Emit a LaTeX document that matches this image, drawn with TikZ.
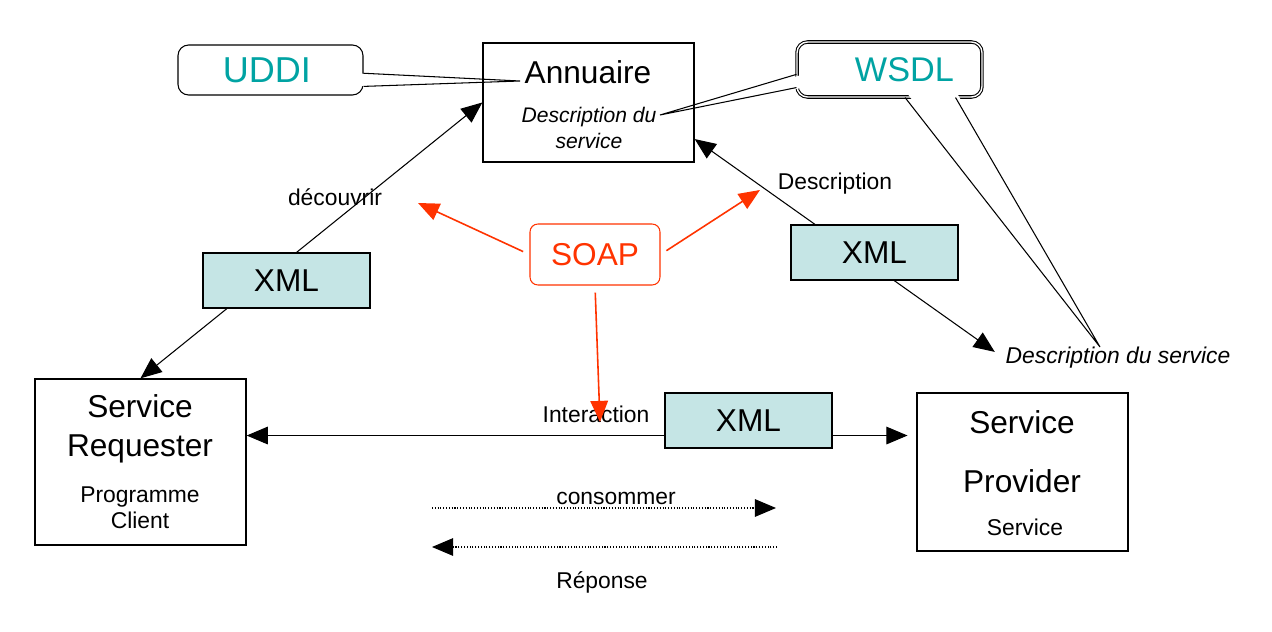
\documentclass[tikz,border=0pt]{standalone}
\usepackage{fontspec}
\setmainfont{Liberation Sans}
\usetikzlibrary{arrows.meta}

\definecolor{xmlfill}{RGB}{197,229,229}
\definecolor{calloutteal}{RGB}{0,163,163}
\definecolor{soapred}{RGB}{255,51,0}

\begin{document}
\begin{tikzpicture}[x=0.02cm,y=-0.02cm,line width=0.6pt,
    >={Triangle[length=12pt,width=10pt]},
    big/.style={font=\fontsize{18}{21}\selectfont},
    small/.style={font=\fontsize{13}{15}\selectfont},
    box/.style={draw,line width=0.8pt,inner sep=0pt,minimum width=4.22cm},
    xmlbox/.style={draw,line width=0.8pt,fill=xmlfill,inner sep=0pt,
      minimum width=3.34cm,minimum height=1.1cm,big},
    callout/.style={draw,fill=white,rounded corners=6pt,inner sep=0pt,
      minimum width=3.7cm,text=calloutteal,font=\fontsize{19.5}{22}\selectfont},
    soaparrow/.style={->,draw=soapred,line width=0.9pt}]
  \useasboundingbox (0,0) rectangle (1272,632);

  % callouts
  \node[callout,minimum height=1cm,font=\fontsize{20.5}{22}\selectfont] (uddi) at (270.5,70)
    {\hspace*{-4pt}UDDI};
  \node[callout,minimum height=1.1cm,double,double distance=0.8pt] (wsdl) at (889.5,69.5)
    {\hspace*{17pt}WSDL};
  \coordinate (uddip) at (520,81);
  \coordinate (wsdlp) at (660,115);
  \coordinate (wsdlq) at (1100,347);
  \fill[white] ([xshift=-4pt]uddi.-2) -- ([xshift=-4pt]uddi.-10) -- (uddip) -- cycle;
  \fill[white] ([xshift=4pt]wsdl.-177) -- ([xshift=4pt]wsdl.-169) -- (wsdlp) -- cycle;
  \fill[white] ([yshift=4pt]wsdl.-61) -- ([yshift=4pt]wsdl.-23) -- (wsdlq) -- cycle;
  \draw (uddi.-2) -- (uddip) -- (uddi.-10);
  \draw (wsdl.-177) -- (wsdlp) -- (wsdl.-169);
  \draw (wsdl.-61) -- (wsdlq) -- (wsdl.-23);

  % boxes
  \node[box,minimum height=2.38cm] (ann) at (588.5,102.5) {};
  \node[big] (annt) at (588,72) {Annuaire};
  \node[font=\fontsize{12}{14.5}\selectfont\itshape,align=center] (annd) at (589,128)
    {Description du\\service};

  \node[box,minimum height=3.32cm] (req) at (140.5,462) {};
  \node[big,align=center] (reqt) at (140,429) {Service\\[1.5pt]Requester};
  \node[small,align=center] (reqd) at (140,508) {Programme\\Client};

  \node[box,minimum height=3.16cm] (prov) at (1022.5,472) {};
  \node[big] (provt) at (1022,422) {Service};
  \node[big] (provu) at (1022,481) {Provider};
  \node[small] (provd) at (1025,527) {Service};

  \node[font=\fontsize{13}{15}\selectfont\itshape,inner sep=1pt] (descsvc) at (1118,358)
    {Description du service};

  % connectors
  \draw[<->] (req.north) -- (ann.west);
  \draw[<->,shorten >=6pt] (ann.-19) -- (descsvc.west);
  \draw[<->,shorten >=5pt] (req.14) -- (req.14 -| prov.west);

  \node[xmlbox] (xmla) at (286.5,280.5) {XML};
  \node[xmlbox] (xmlb) at (874.5,252.5) {XML};
  \node[xmlbox] (xmlc) at (748.5,420.5) {XML};

  \node[small] (decouv) at (335,197) {découvrir};
  \node[small] (descr) at (835,184) {Description};
  \node[small] (inter) at (596,414) {Interaction};

  % SOAP
  \node[draw=soapred,text=soapred,rounded corners=4.5pt,minimum width=2.6cm,
    minimum height=1.22cm,inner sep=0pt,big] (soap) at (595,254.5) {SOAP};
  \coordinate (soapl) at (418,203);
  \coordinate (soapr) at (760,190);
  \coordinate (soapd) at (600,422);
  \draw[soaparrow,shorten <=4pt] (soap.west) -- (soapl);
  \draw[soaparrow,shorten <=4pt] (soap.east) -- (soapr);
  \draw[soaparrow,shorten <=4pt] (soap.south) -- (soapd);

  % consommer / reponse
  \coordinate (cons1) at (432,508);
  \coordinate (cons2) at (776,508);
  \coordinate (rep1) at (777,547);
  \coordinate (rep2) at (432,547);
  \draw[->,densely dotted,line width=0.6pt] (cons1) -- (cons2);
  \draw[->,densely dotted,line width=0.6pt] (rep1) -- (rep2);
  \node[small] (cons) at (616,498) {consommer};
  \node[small] (rep) at (602,582) {Réponse};
\end{tikzpicture}
\end{document}
